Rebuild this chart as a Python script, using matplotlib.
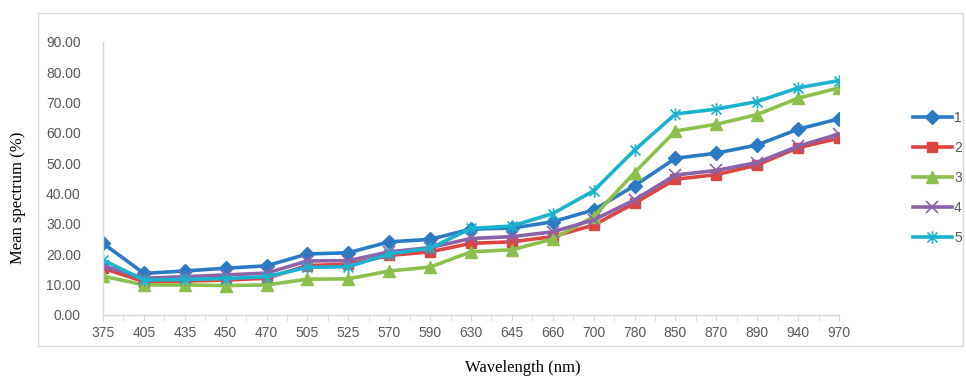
"""Mean spectrum by wavelength for five samples (Excel-style line chart)."""

import matplotlib
import matplotlib.pyplot as plt
import numpy as np
from matplotlib.patches import Rectangle
from matplotlib.path import Path

matplotlib.use("Agg")

wavelengths = ["375", "405", "435", "450", "470", "505", "525", "570", "590", "630",
               "645", "660", "700", "780", "850", "870", "890", "940", "970"]

series_1 = [23.6, 13.7, 14.5, 15.4, 16.2, 20.1, 20.5, 24.1, 24.9, 28.3,
            28.6, 30.7, 34.6, 42.6, 51.6, 53.3, 56.0, 61.2, 64.6]
series_2 = [15.4, 11.0, 11.2, 11.5, 12.1, 16.3, 16.7, 19.6, 20.8, 23.6,
            24.1, 25.8, 29.6, 36.8, 44.7, 46.2, 49.4, 55.1, 58.2]
series_3 = [12.8, 9.9, 9.9, 9.7, 9.9, 11.8, 11.9, 14.5, 15.8, 20.8,
            21.5, 25.0, 32.4, 46.9, 60.6, 62.8, 66.0, 71.4, 74.8]
series_4 = [16.2, 12.1, 12.6, 13.2, 13.8, 17.8, 17.9, 20.8, 22.2, 25.2,
            25.8, 27.4, 31.3, 37.9, 46.1, 47.6, 50.2, 55.6, 59.6]
series_5 = [18.1, 11.5, 11.7, 12.0, 12.6, 15.7, 15.9, 20.1, 22.0, 28.5,
            29.3, 33.4, 40.9, 54.3, 66.2, 67.8, 70.3, 74.8, 77.2]

labels = ["1", "2", "3", "4", "5"]

# Excel-like star marker: vertical bar plus an X
star = Path([(0, -1), (0, 1), (-0.8, -0.8), (0.8, 0.8), (-0.8, 0.8), (0.8, -0.8)],
            [Path.MOVETO, Path.LINETO, Path.MOVETO, Path.LINETO, Path.MOVETO, Path.LINETO])

styles = [
    dict(color="#2B7BC4", marker="D", markersize=7),
    dict(color="#DD4540", marker="s", markersize=7),
    dict(color="#8DBF4C", marker="^", markersize=8.5),
    dict(color="#8C62A8", marker="x", markersize=8, markeredgewidth=1.2),
    dict(color="#1BB2D0", marker=star, markersize=9, markeredgewidth=1.2),
]

fig = plt.figure(figsize=(9.66, 3.78), dpi=100)

# outer chart frame
fig.patches.append(Rectangle((38 / 966, 1 - 346 / 378), 925 / 966, 333 / 378,
                             transform=fig.transFigure, fill=False,
                             edgecolor="#D9D9D9", linewidth=1.0))

ax = fig.add_axes([103 / 966, 1 - 315 / 378, 736 / 966, 273.3 / 378])

x = np.arange(len(wavelengths))
for vals, lab, st in zip([series_1, series_2, series_3, series_4, series_5], labels, styles):
    ax.plot(x, vals, label=lab, linewidth=2.6, **st)

ax.set_xlim(0, len(wavelengths) - 1)
ax.set_ylim(0, 90)
ax.set_yticks(np.arange(0, 91, 10))
ax.set_yticklabels([f"{v:.2f}" for v in np.arange(0, 91, 10)])
ax.set_xticks(x)
ax.set_xticks(x[:-1] + 0.5, minor=True)
ax.set_xticklabels(wavelengths)

for s in ["top", "right"]:
    ax.spines[s].set_visible(False)
for s in ["left", "bottom"]:
    ax.spines[s].set_color("#D9D9D9")
    ax.spines[s].set_linewidth(1.0)

ax.tick_params(axis="y", length=0, pad=16, labelsize=10, labelcolor="#595959")
ax.tick_params(axis="x", which="major", length=4, color="#D9D9D9", pad=4,
               labelsize=10, labelcolor="#595959")
ax.tick_params(axis="x", which="minor", length=4, color="#D9D9D9")
for t in ax.get_xticklabels() + ax.get_yticklabels():
    t.set_fontfamily("Liberation Sans")

fig.text(18 / 966, 1 - 198 / 378, "Mean spectrum (%)", rotation=90,
         ha="center", va="center", fontsize=12, family="Liberation Serif")
fig.text(523 / 966, 1 - 368 / 378, "Wavelength (nm)", ha="center", va="center",
         fontsize=12, family="Liberation Serif")

leg = ax.legend(loc="upper left", bbox_to_anchor=(913 / 966, 1 - 111 / 378),
                bbox_transform=fig.transFigure, frameon=False, handlelength=2.8,
                handletextpad=0.15, labelspacing=1.15, borderpad=0,
                borderaxespad=0, prop={"family": "Liberation Sans", "size": 10})
for t in leg.get_texts():
    t.set_color("#595959")

fig.savefig("out.png", dpi=100)
